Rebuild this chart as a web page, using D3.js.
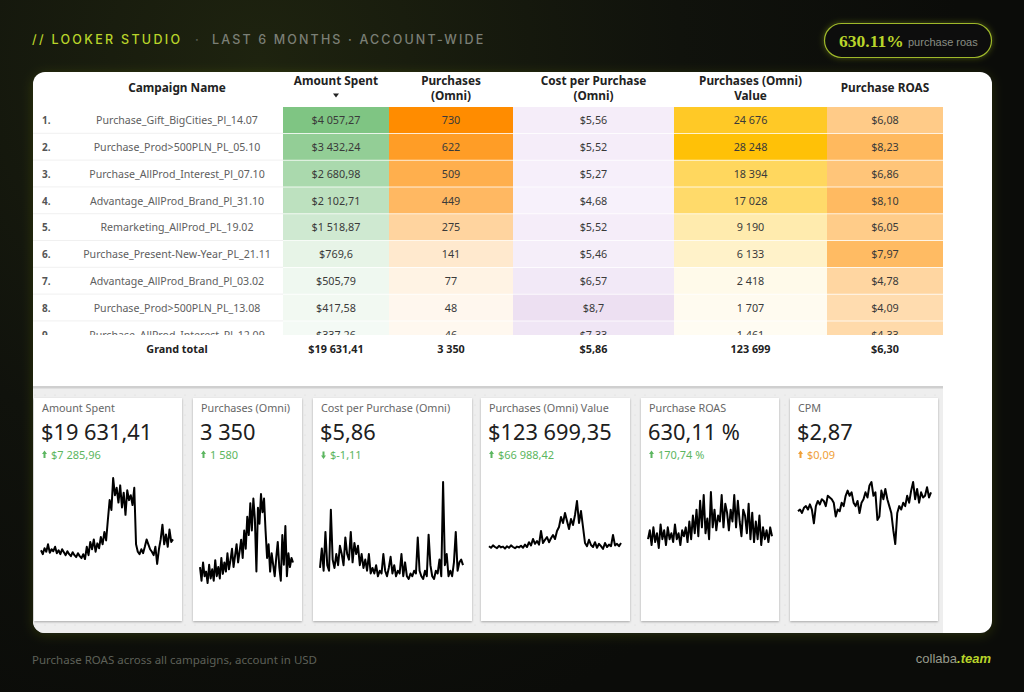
<!DOCTYPE html>
<html>
<head>
<meta charset="utf-8">
<script src="https://cdn.jsdelivr.net/npm/d3@7"></script>
<style>
    html, body { margin: 0; padding: 0; background: #0d0e0b; }
    svg { display: block; }
</style>
</head>
<body>
<svg id="chart"></svg>
<script>
// ---- table data ----
const campaigns = [
    "Purchase_Gift_BigCities_Pl_14.07",
    "Purchase_Prod>500PLN_PL_05.10",
    "Purchase_AllProd_Interest_Pl_07.10",
    "Advantage_AllProd_Brand_Pl_31.10",
    "Remarketing_AllProd_PL_19.02",
    "Purchase_Present-New-Year_PL_21.11",
    "Advantage_AllProd_Brand_Pl_03.02",
    "Purchase_Prod>500PLN_PL_13.08",
    "Purchase_AllProd_Interest_Pl_12.09"
];
const amountSpent = [4057.27, 3432.24, 2680.98, 2102.71, 1518.87, 769.6, 505.79, 417.58, 337.26];
const purchases = [730, 622, 509, 449, 275, 141, 77, 48, 46];
const costPerPurchase = [5.56, 5.52, 5.27, 4.68, 5.52, 5.46, 6.57, 8.7, 7.33];
const purchaseValue = [24676, 28248, 18394, 17028, 9190, 6133, 2418, 1707, 1461];
const purchaseRoas = [6.08, 8.23, 6.86, 8.10, 6.05, 7.97, 4.78, 4.09, 4.33];
const grandTotals = [19631.41, 3350, 5.86, 123699, 6.30];

const columnHeaders = [
    ["Amount Spent"],
    ["Purchases", "(Omni)"],
    ["Cost per Purchase", "(Omni)"],
    ["Purchases (Omni)", "Value"],
    ["Purchase ROAS"]
];

// ---- scorecards ----
const scoreTitles = ["Amount Spent", "Purchases (Omni)", "Cost per Purchase (Omni)", "Purchases (Omni) Value", "Purchase ROAS", "CPM"];
const scoreValues = ["$19 631,41", "3 350", "$5,86", "$123 699,35", "630,11 %", "$2,87"];
const scoreDeltas = ["$7 285,96", "1 580", "$-1,11", "$66 988,42", "170,74 %", "$0,09"];
const deltaUp = [true, true, false, true, true, true];
const deltaGood = [true, true, true, true, true, false];

// daily series
const spendDaily = [88, 80, 92, 85, 100, 83, 90, 86, 95, 82, 88, 80, 90, 84, 78, 86, 80, 76, 84, 78, 74, 82, 76, 72, 80, 70,
    95, 78, 105, 90, 110, 85, 102, 92, 115, 100, 125, 108,
    150, 190, 170, 235, 200, 215, 185, 220, 175, 205, 160, 210, 190, 200, 180, 215,
    100, 85, 80, 90, 82, 95, 110, 100, 90, 85, 78, 95, 60, 90, 110, 140, 100, 120, 95, 130, 105, 110];
const purchasesDaily = [14, 8, 16, 10, 12, 7, 15, 9, 13, 8, 17, 10, 14, 9, 18, 11, 16, 12, 20, 13, 17, 22, 14, 19, 24, 16, 21, 26,
    18, 30, 22, 36, 28, 42, 30, 44, 35, 12, 40, 33, 46, 38, 44, 30, 18, 24, 12, 20, 15, 10, 18, 25, 14, 8, 28, 15, 32, 10, 20, 14, 18, 16];
const cppDaily = [6.5, 10, 6, 13, 7, 6, 17, 8, 6.5, 9, 7, 10.5, 9, 7, 12, 9, 8, 13, 7.5, 11, 9, 10.5, 7, 9, 6.5, 8, 6, 9, 5.5, 6.5,
    5.5, 7, 5, 6, 5.5, 9, 6, 5, 6.5, 8.5, 5.5, 7, 5, 6, 5.5, 9, 5, 7.5, 5, 4.5, 5.5, 5, 6, 5.5, 12, 6, 5, 4.5, 6, 5,
    12.5, 7, 5, 4.5, 6, 5.5, 8, 5, 22, 7, 9, 5, 6, 5, 7.5, 13, 6, 7.5, 8, 7];
const valueDaily = [520, 480, 540, 500, 470, 530, 490, 510, 460, 520, 480, 540, 500, 470, 510, 490, 530, 480, 560, 500, 620, 540,
    700, 580, 650, 560, 900, 600, 680, 750, 620, 720, 800, 700, 900, 1000, 1250, 1100, 1350, 1150, 950, 1200, 1050, 1300, 1650,
    1100, 1400, 1000, 600, 520, 680, 550, 500, 620, 480, 580, 520, 450, 600, 500, 560, 520, 800, 540, 580, 520, 600];
const roasDaily = [5, 6.5, 4, 7, 4.5, 6, 3.5, 7.5, 5, 6.5, 4, 7, 5, 6, 4.5, 7.5, 5, 6, 4, 6.5, 5.5, 7, 4.5, 8, 5, 9, 6, 10, 5.5,
    11.5, 7, 12.5, 6, 8.5, 5, 13, 7, 10, 6.5, 9, 8, 12.5, 7, 11, 9.5, 6.5, 10, 8, 12.5, 7, 11.5, 8, 5.5, 10, 9, 6, 11, 5, 9.5,
    4.5, 8, 5, 9, 4, 7, 5, 6.5, 4.5, 7, 5.5];
const cpmDaily = [2.75, 2.8, 2.7, 2.85, 2.9, 2.8, 2.95, 2.8, 2.4, 2.9, 3.05, 2.95, 3.1, 3.05, 2.9, 3.2, 3.15, 3.1, 3.0, 2.6, 2.8,
    2.75, 3.0, 2.9, 3.2, 3.35, 3.2, 3.3, 3.0, 2.9, 3.05, 2.7, 3.0, 3.1, 3.3, 3.15, 3.5, 3.6, 3.2, 3.3, 2.5, 2.6, 3.35, 3.1, 3.4,
    3.1, 2.9, 2.7, 2.2, 1.8, 2.7, 2.9, 2.8, 3.0, 2.9, 3.2, 3.0, 3.35, 3.6, 3.1, 3.4, 3.0, 3.3, 3.15, 3.2, 3.45, 3.15, 3.3];
const sparkSeries = [spendDaily, purchasesDaily, cppDaily, valueDaily, roasDaily, cpmDaily];

// ---- layout ----
const W = 1024, H = 692;
const card = { x: 33, y: 72, w: 959, h: 561, r: 12 };
const colEdges = [283, 389, 513, 674, 827, 943];
const rowTop = 107, rowH = 26.8, rowClip = 335;
const scoreCards = [
    { x: 34, w: 148, sx: [41, 173], sy: [478, 564] },
    { x: 193, w: 109, sx: [200, 293], sy: [494, 583] },
    { x: 313, w: 159, sx: [320, 463], sy: [482, 579] },
    { x: 481, w: 149, sx: [489, 621], sy: [501, 549] },
    { x: 641, w: 138, sx: [648, 772], sy: [492, 548] },
    { x: 790, w: 148, sx: [798, 931], sy: [482, 544] }
];
const font = "'Noto Sans', 'DejaVu Sans', sans-serif";
const lime = "#b9d42a";

const locale = d3.formatLocale({ decimal: ",", thousands: " ", grouping: [3], currency: ["$", ""] });
const fmtMoneyTrim = locale.format("$,.2~f");
const fmtMoney = locale.format("$,.2f");
const fmtInt = locale.format(",.0f");
const columnData = [amountSpent, purchases, costPerPurchase, purchaseValue, purchaseRoas];
const columnFormat = [fmtMoneyTrim, fmtInt, fmtMoneyTrim, fmtInt, fmtMoney];
const columnColor = [
    d3.scaleLinear().domain([0, d3.max(amountSpent)]).range(["#ffffff", "#7fc583"]),
    d3.scaleLinear().domain([0, d3.max(purchases)]).range(["#ffffff", "#ff8c00"]),
    d3.scaleLinear().domain(d3.extent(costPerPurchase)).range(["#f7f1fb", "#ede0f2"]),
    d3.scaleLinear().domain([0, d3.max(purchaseValue)]).range(["#ffffff", "#ffc107"]),
    d3.scaleLinear().domain([0, d3.max(purchaseRoas)]).range(["#ffffff", "#ffb95e"])
];

const svg = d3.select("#chart").attr("width", W).attr("height", H);
const defs = svg.append("defs");

const bg = defs.append("radialGradient").attr("id", "bgGlow")
    .attr("gradientUnits", "userSpaceOnUse").attr("cx", 260).attr("cy", 60).attr("r", 700);
bg.append("stop").attr("offset", "0%").attr("stop-color", "#1e230f");
bg.append("stop").attr("offset", "60%").attr("stop-color", "#10120c");
bg.append("stop").attr("offset", "100%").attr("stop-color", "#0b0c09");

const glow = defs.append("filter").attr("id", "cardGlow")
    .attr("x", "-5%").attr("y", "-5%").attr("width", "110%").attr("height", "110%");
glow.append("feDropShadow").attr("dx", 0).attr("dy", 2).attr("stdDeviation", 6)
    .attr("flood-color", "#a8c530").attr("flood-opacity", 0.18);

const pillGlow = defs.append("filter").attr("id", "pillGlow")
    .attr("x", "-20%").attr("y", "-50%").attr("width", "140%").attr("height", "200%");
pillGlow.append("feDropShadow").attr("dx", 0).attr("dy", 0).attr("stdDeviation", 3)
    .attr("flood-color", lime).attr("flood-opacity", 0.35);

const tileShadow = defs.append("filter").attr("id", "tileShadow")
    .attr("x", "-10%").attr("y", "-10%").attr("width", "120%").attr("height", "120%");
tileShadow.append("feDropShadow").attr("dx", 0).attr("dy", 1).attr("stdDeviation", 1)
    .attr("flood-color", "#000").attr("flood-opacity", 0.3);

defs.append("clipPath").attr("id", "cardClip").append("rect")
    .attr("x", card.x).attr("y", card.y).attr("width", card.w).attr("height", card.h).attr("rx", card.r);
defs.append("clipPath").attr("id", "rowClip").append("rect")
    .attr("x", card.x).attr("y", rowTop).attr("width", colEdges[5] - card.x).attr("height", rowClip - rowTop);

const dots = defs.append("pattern").attr("id", "dots").attr("patternUnits", "userSpaceOnUse")
    .attr("width", 10).attr("height", 10);
dots.append("rect").attr("width", 10).attr("height", 10).attr("fill", "#eeeeee");
dots.append("circle").attr("cx", 5).attr("cy", 5).attr("r", 0.6).attr("fill", "#d9d9d9");

// background
svg.append("rect").attr("width", W).attr("height", H).attr("fill", "url(#bgGlow)");

// header
const headFont = "Inter, 'Noto Sans', sans-serif";
svg.append("text").attr("x", 32).attr("y", 44)
    .attr("font-family", headFont).attr("font-size", 12.5).attr("font-weight", 500)
    .attr("letter-spacing", 2.3).attr("fill", lime).text("// LOOKER STUDIO");
svg.append("text").attr("x", 195).attr("y", 44)
    .attr("font-family", headFont).attr("font-size", 12.5).attr("font-weight", 500)
    .attr("fill", "#585c52").text("·");
svg.append("text").attr("x", 212).attr("y", 44)
    .attr("font-family", headFont).attr("font-size", 12.5).attr("font-weight", 500)
    .attr("letter-spacing", 2.15).attr("fill", "#7b7f76").text("LAST 6 MONTHS · ACCOUNT-WIDE");

// roas pill
svg.append("rect").attr("x", 824.5).attr("y", 23.5).attr("width", 167).attr("height", 34).attr("rx", 17)
    .attr("fill", "#0d0e0a").attr("stroke", "#9fb82a").attr("stroke-width", 1.2).attr("filter", "url(#pillGlow)");
svg.append("text").attr("x", 839).attr("y", 47)
    .attr("font-family", "'Liberation Serif', 'DejaVu Serif', serif").attr("font-size", 17.5).attr("font-weight", 700)
    .attr("fill", lime).text("630.11%");
svg.append("text").attr("x", 908).attr("y", 46)
    .attr("font-family", "'Liberation Sans', Arial, sans-serif").attr("font-size", 11)
    .attr("fill", "#8a8d84").text("purchase roas");

// main card
svg.append("rect").attr("x", card.x).attr("y", card.y).attr("width", card.w).attr("height", card.h)
    .attr("rx", card.r).attr("fill", "#ffffff").attr("filter", "url(#cardGlow)");

const body = svg.append("g").attr("clip-path", "url(#cardClip)");

// ---- table ----
const table = body.append("g");
const rows = d3.scaleBand().domain(d3.range(campaigns.length))
    .range([rowTop, rowTop + rowH * campaigns.length]);

const headG = table.append("g").attr("font-family", font).attr("font-weight", 700)
    .attr("font-size", 11.8).attr("fill", "#222").attr("text-anchor", "middle");
headG.append("text").attr("x", 177).attr("y", 92).text("Campaign Name");
columnHeaders.forEach((lines, i) => {
    const cx = (colEdges[i] + colEdges[i + 1]) / 2;
    if (lines.length === 1 && i !== 0) {
        headG.append("text").attr("x", cx).attr("y", 92).text(lines[0]);
    } else {
        lines.forEach((l, j) => headG.append("text").attr("x", cx).attr("y", 85 + j * 14.5).text(l));
    }
    if (i === 0) {
        headG.append("path").attr("d", `M${cx - 3},93.5 L${cx + 3},93.5 L${cx},97.5 Z`).attr("fill", "#222");
    }
});

const rowsG = table.append("g").attr("clip-path", "url(#rowClip)");

rowsG.selectAll(".sep").data(campaigns).enter().append("line")
    .attr("x1", card.x).attr("x2", colEdges[0])
    .attr("y1", (d, i) => rows(i) + rows.bandwidth() - 0.5)
    .attr("y2", (d, i) => rows(i) + rows.bandwidth() - 0.5)
    .attr("stroke", "#f0f0f0");

rowsG.selectAll(".idx").data(campaigns).enter().append("text")
    .attr("x", 42).attr("y", (d, i) => rows(i) + rows.bandwidth() / 2 + 3.7)
    .attr("font-family", font).attr("font-size", 10).attr("font-weight", 700).attr("fill", "#555")
    .text((d, i) => (i + 1) + ".");

rowsG.selectAll(".name").data(campaigns).enter().append("text")
    .attr("x", 177).attr("y", (d, i) => rows(i) + rows.bandwidth() / 2 + 3.7)
    .attr("text-anchor", "middle").attr("font-family", font).attr("font-size", 10.6).attr("fill", "#606060")
    .text(d => d);

columnData.forEach((vals, c) => {
    const x0 = colEdges[c], x1 = colEdges[c + 1];
    const g = rowsG.append("g");
    g.selectAll("rect").data(vals).enter().append("rect")
        .attr("x", x0).attr("width", x1 - x0)
        .attr("y", (d, i) => rows(i)).attr("height", rows.bandwidth() - 0.8)
        .attr("fill", d => columnColor[c](d));
    g.selectAll("text").data(vals).enter().append("text")
        .attr("x", (x0 + x1) / 2).attr("y", (d, i) => rows(i) + rows.bandwidth() / 2 + 3.7)
        .attr("text-anchor", "middle").attr("font-family", font).attr("font-size", 10.8).attr("fill", "#3a3a3a")
        .text(d => columnFormat[c](d));
});

// grand total
const totG = table.append("g").attr("font-family", font).attr("font-weight", 700)
    .attr("font-size", 10.8).attr("fill", "#222").attr("text-anchor", "middle");
totG.append("text").attr("x", 177).attr("y", 352.5).text("Grand total");
totG.selectAll(".tot").data(grandTotals).enter().append("text")
    .attr("x", (d, i) => (colEdges[i] + colEdges[i + 1]) / 2).attr("y", 352.5)
    .text((d, i) => columnFormat[i](d));

// ---- scorecard strip ----
body.append("rect").attr("x", card.x).attr("y", 387).attr("width", colEdges[5] - card.x).attr("height", 260)
    .attr("fill", "url(#dots)");
body.append("rect").attr("x", card.x).attr("y", 386).attr("width", colEdges[5] - card.x).attr("height", 2.5)
    .attr("fill", "#cfcfcf");

const tiles = body.selectAll(".tile").data(scoreCards).enter().append("g");
tiles.append("rect").attr("x", d => d.x).attr("y", 398).attr("width", d => d.w).attr("height", 223)
    .attr("fill", "#fff").attr("filter", "url(#tileShadow)");
tiles.append("text").attr("x", d => d.x + 8).attr("y", 412)
    .attr("font-family", font).attr("font-size", 10.8).attr("fill", "#666")
    .text((d, i) => scoreTitles[i]);
tiles.append("text").attr("x", d => d.x + 7).attr("y", 440)
    .attr("font-family", font).attr("font-size", 21.8).attr("fill", "#202020")
    .text((d, i) => scoreValues[i]);

const deltaColor = i => deltaGood[i] ? "#5cb660" : "#f0a037";
tiles.append("path")
    .attr("d", (d, i) => {
        const x = d.x + 10.5, y = 455;
        return deltaUp[i]
            ? `M${x - 2.5},${y - 1} L${x},${y - 4.5} L${x + 2.5},${y - 1} L${x + 1},${y - 1} L${x + 1},${y + 3} L${x - 1},${y + 3} L${x - 1},${y - 1} Z`
            : `M${x - 2.5},${y + 0.5} L${x},${y + 4} L${x + 2.5},${y + 0.5} L${x + 1},${y + 0.5} L${x + 1},${y - 3.5} L${x - 1},${y - 3.5} L${x - 1},${y + 0.5} Z`;
    })
    .attr("fill", (d, i) => deltaColor(i));
tiles.append("text").attr("x", d => d.x + 17).attr("y", 459)
    .attr("font-family", font).attr("font-size", 11).attr("fill", (d, i) => deltaColor(i))
    .text((d, i) => scoreDeltas[i]);

// sparklines
scoreCards.forEach((c, i) => {
    const series = sparkSeries[i];
    const x = d3.scaleLinear().domain([0, series.length - 1]).range(c.sx);
    const y = d3.scaleLinear().domain(d3.extent(series)).range([c.sy[1], c.sy[0]]);
    const line = d3.line().x((d, j) => x(j)).y(d => y(d));
    body.append("path").datum(series)
        .attr("d", line).attr("fill", "none").attr("stroke", "#000")
        .attr("stroke-width", 2).attr("stroke-linejoin", "round");
});

// footer
svg.append("text").attr("x", 32).attr("y", 664)
    .attr("font-family", font).attr("font-size", 11.5).attr("fill", "#5d6058")
    .text("Purchase ROAS across all campaigns, account in USD");
const brand = svg.append("text").attr("x", 991).attr("y", 663).attr("text-anchor", "end")
    .attr("font-family", "'Liberation Sans Narrow', 'Liberation Sans', sans-serif").attr("font-size", 13);
brand.append("tspan").attr("fill", "#979a8c").text("collaba");
brand.append("tspan").attr("fill", lime).attr("font-style", "italic").attr("font-weight", 700).text(".team");
</script>
</body>
</html>
